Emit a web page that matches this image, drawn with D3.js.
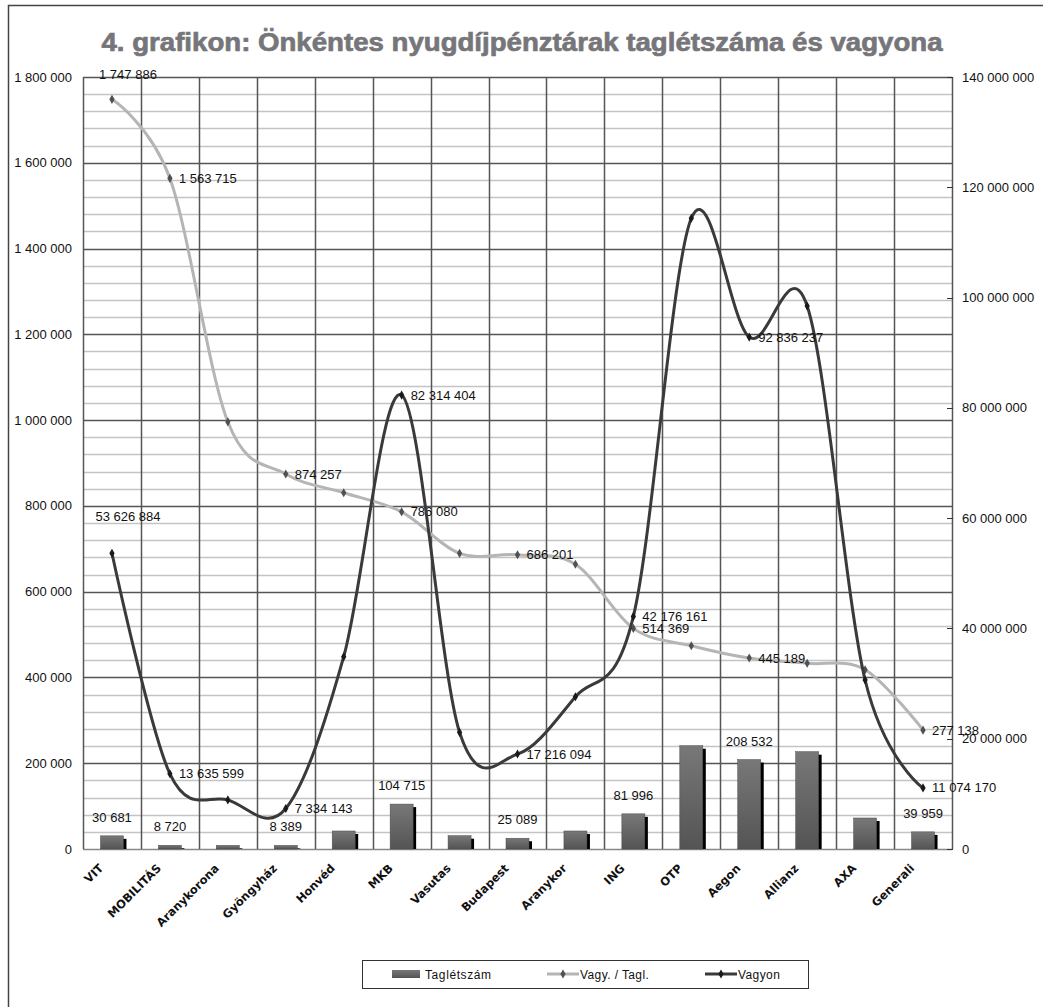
<!DOCTYPE html>
<html>
<head>
<meta charset="utf-8">
<script src="https://cdn.jsdelivr.net/npm/d3@7"></script>
<style>
  body { margin: 0; background: #fff; }
  text { font-family: "Liberation Sans", Arial, sans-serif; }
  text.xlab { font-family: "DejaVu Sans", sans-serif; }
</style>
</head>
<body>
<svg id="chart" width="1043" height="1007"></svg>
<script>
// data
const funds = ["VIT", "MOBILITÁS", "Aranykorona", "Gyöngyház", "Honvéd", "MKB", "Vasutas",
  "Budapest", "Aranykor", "ING", "OTP", "Aegon", "Allianz", "AXA", "Generali"];
const members = [30681, 8720, 8500, 8389, 42000, 104715, 31000, 25089, 42000, 81996,
  240800, 208532, 226900, 72300, 39959];
const perMember = [1747886, 1563715, 996000, 874257, 830700, 786080, 689400, 686201, 663800,
  514369, 474000, 445189, 433000, 418000, 277138];
const assets = [53626884, 13635599, 8900000, 7334143, 34870000, 82314404, 21160000, 17216094,
  27620000, 42176161, 114380000, 92836237, 98470000, 30650000, 11074170];
const labelled = ["VIT", "MOBILITÁS", "Gyöngyház", "MKB", "Budapest", "ING", "Aegon", "Generali"];
const leftTicks = d3.range(0, 1800001, 200000);
const rightTicks = d3.range(0, 140000001, 20000000);

let svg = d3.select("#chart");
let margin = {left: 83, top: 77, right: 91, bottom: 158};
let width = +svg.attr("width") - margin.left - margin.right;
let height = +svg.attr("height") - margin.top - margin.bottom;

let fmt = (v) => d3.format(",")(v).replace(/,/g, " ");

let x = d3.scaleBand().domain(funds).range([0, width]);
let yL = d3.scaleLinear().domain([0, 1800000]).range([height, 0]);
let yR = d3.scaleLinear().domain([0, 140000000]).range([height, 0]);
let cx = (name) => x(name) + x.bandwidth() / 2;

// outer frame (only top and left edge are inside the picture)
svg.append("rect").attr("x", 8.5).attr("y", 5.5).attr("width", 1100).attr("height", 1100)
  .attr("fill", "none").attr("stroke", "#444").attr("stroke-width", 1.5);

svg.append("text")
  .attr("x", 522).attr("y", 51)
  .attr("text-anchor", "middle")
  .attr("font-size", 26).attr("font-weight", "bold")
  .attr("fill", "#76767a").attr("stroke", "#76767a").attr("stroke-width", 0.7)
  .attr("textLength", 841).attr("lengthAdjust", "spacingAndGlyphs")
  .text("4. grafikon: Önkéntes nyugdíjpénztárak taglétszáma és vagyona");

let g = svg.append("g").attr("transform", `translate(${margin.left}, ${margin.top})`);

// minor gridlines
g.selectAll(".minor").data(d3.range(0, 1800001, 40000).filter(v => v % 200000 !== 0))
  .enter().append("line")
  .attr("x1", 0).attr("x2", width)
  .attr("y1", d => Math.round(yL(d)) + 0.5).attr("y2", d => Math.round(yL(d)) + 0.5)
  .attr("stroke", "#c4c4c4").attr("stroke-width", 1.5);
// major gridlines
g.selectAll(".major").data(leftTicks)
  .enter().append("line")
  .attr("x1", 0).attr("x2", width)
  .attr("y1", d => Math.round(yL(d)) + 0.5).attr("y2", d => Math.round(yL(d)) + 0.5)
  .attr("stroke", d => d === 0 ? "#888" : "#555").attr("stroke-width", 1.5);
// vertical lines between categories
g.selectAll(".vline").data(d3.range(funds.length + 1))
  .enter().append("line")
  .attr("x1", i => Math.round(i * x.step()) + 0.5)
  .attr("x2", i => Math.round(i * x.step()) + 0.5)
  .attr("y1", 0).attr("y2", height)
  .attr("stroke", "#555").attr("stroke-width", 1.5);

// left axis labels
g.selectAll(".ltick").data(leftTicks)
  .enter().append("text")
  .attr("x", -11).attr("y", d => yL(d)).attr("dy", "0.35em")
  .attr("text-anchor", "end").attr("font-size", 13).attr("fill", "#111")
  .text(fmt);
// right axis ticks + labels
g.selectAll(".rtickline").data(rightTicks)
  .enter().append("line")
  .attr("x1", width - 5).attr("x2", width + 1)
  .attr("y1", d => Math.round(yR(d)) + 0.5).attr("y2", d => Math.round(yR(d)) + 0.5)
  .attr("stroke", "#333");
g.selectAll(".rtick").data(rightTicks)
  .enter().append("text")
  .attr("x", width + 10).attr("y", d => yR(d)).attr("dy", "0.35em")
  .attr("font-size", 13).attr("fill", "#111")
  .text(fmt);

// category labels
g.selectAll(".xlab").data(funds)
  .enter().append("text")
  .attr("class", "xlab")
  .attr("transform", d => `translate(${cx(d) - 8}, ${height + 20}) rotate(-45)`)
  .attr("text-anchor", "end").attr("font-size", 11.5).attr("font-weight", "bold")
  .attr("fill", "#111")
  .text(d => d);

// bars
let defs = svg.append("defs");
let grad = defs.append("linearGradient").attr("id", "barGrad")
  .attr("x1", 0).attr("x2", 0).attr("y1", 0).attr("y2", 1);
grad.append("stop").attr("offset", "0%").attr("stop-color", "#787878");
grad.append("stop").attr("offset", "100%").attr("stop-color", "#545454");

const BAR_W = 23;
let bars = g.selectAll(".bar").data(funds).enter().append("g");
bars.append("rect")
  .attr("x", d => cx(d) - BAR_W / 2 + 3)
  .attr("y", (d, i) => yL(members[i]) + 3)
  .attr("width", BAR_W)
  .attr("height", (d, i) => Math.max(0, height - yL(members[i]) - 3))
  .attr("fill", "#000");
bars.append("rect")
  .attr("x", d => cx(d) - BAR_W / 2)
  .attr("y", (d, i) => yL(members[i]))
  .attr("width", BAR_W)
  .attr("height", (d, i) => height - yL(members[i]))
  .attr("fill", "url(#barGrad)").attr("stroke", "#4a4a4a").attr("stroke-width", 0.5);
bars.filter(d => labelled.includes(d)).append("text")
  .attr("x", d => cx(d))
  .attr("y", d => yL(members[funds.indexOf(d)]) - 14)
  .attr("text-anchor", "middle").attr("font-size", 13).attr("fill", "#111")
  .text(d => fmt(members[funds.indexOf(d)]));

// lines
let lineL = d3.line().x((d, i) => cx(funds[i])).y(d => yL(d)).curve(d3.curveCardinal);
let lineR = d3.line().x((d, i) => cx(funds[i])).y(d => yR(d)).curve(d3.curveCardinal);

let series = [
  {name: "Vagy. / Tagl.", values: perMember, y: yL, line: lineL, color: "#b5b5b5", marker: "#505050", firstDy: -20},
  {name: "Vagyon", values: assets, y: yR, line: lineR, color: "#3a3a3a", marker: "#1a1a1a", firstDy: -32}
];
let diamond = d3.symbol().type(d3.symbolDiamond).size(24);

for (let s of series) {
  g.append("path")
    .datum(s.values)
    .attr("fill", "none").attr("stroke", s.color).attr("stroke-width", 3)
    .attr("stroke-linejoin", "round")
    .attr("d", s.line);
  g.selectAll(null).data(s.values).enter().append("path")
    .attr("transform", (d, i) => `translate(${cx(funds[i])}, ${s.y(d)})`)
    .attr("d", diamond).attr("fill", s.marker);
  let pts = s.values.map((v, i) => ({name: funds[i], v: v, i: i}))
    .filter(p => labelled.includes(p.name));
  g.selectAll(null).data(pts).enter()
    .append("text")
    .attr("x", p => p.i === 0 ? cx(p.name) + 16 : cx(p.name) + 9)
    .attr("y", p => p.i === 0 ? s.y(p.v) + s.firstDy : s.y(p.v))
    .attr("dy", p => p.i === 0 ? 0 : "0.35em")
    .attr("text-anchor", p => p.i === 0 ? "middle" : "start")
    .attr("font-size", 13).attr("fill", "#111")
    .text(p => fmt(p.v));
}

// legend
let legend = svg.append("g");
legend.append("rect").attr("x", 362.5).attr("y", 960.5).attr("width", 446).attr("height", 28)
  .attr("fill", "#fff").attr("stroke", "#333").attr("stroke-width", 1);
legend.append("rect").attr("x", 392).attr("y", 970).attr("width", 28).attr("height", 8)
  .attr("fill", "url(#barGrad)");
legend.append("text").attr("x", 425).attr("y", 979).attr("font-size", 12)
  .attr("letter-spacing", 0.6).attr("fill", "#111").text("Taglétszám");
let legendItems = [
  {x: 547, color: series[0].color, marker: series[0].marker, label: series[0].name},
  {x: 705, color: series[1].color, marker: series[1].marker, label: series[1].name}
];
for (let it of legendItems) {
  legend.append("line").attr("x1", it.x).attr("x2", it.x + 32).attr("y1", 974).attr("y2", 974)
    .attr("stroke", it.color).attr("stroke-width", 3);
  legend.append("path").attr("transform", `translate(${it.x + 16}, 974)`)
    .attr("d", diamond).attr("fill", it.marker);
  legend.append("text").attr("x", it.x + 33).attr("y", 979).attr("font-size", 12)
    .attr("letter-spacing", 0.4).attr("fill", "#111").text(it.label);
}
</script>
</body>
</html>
